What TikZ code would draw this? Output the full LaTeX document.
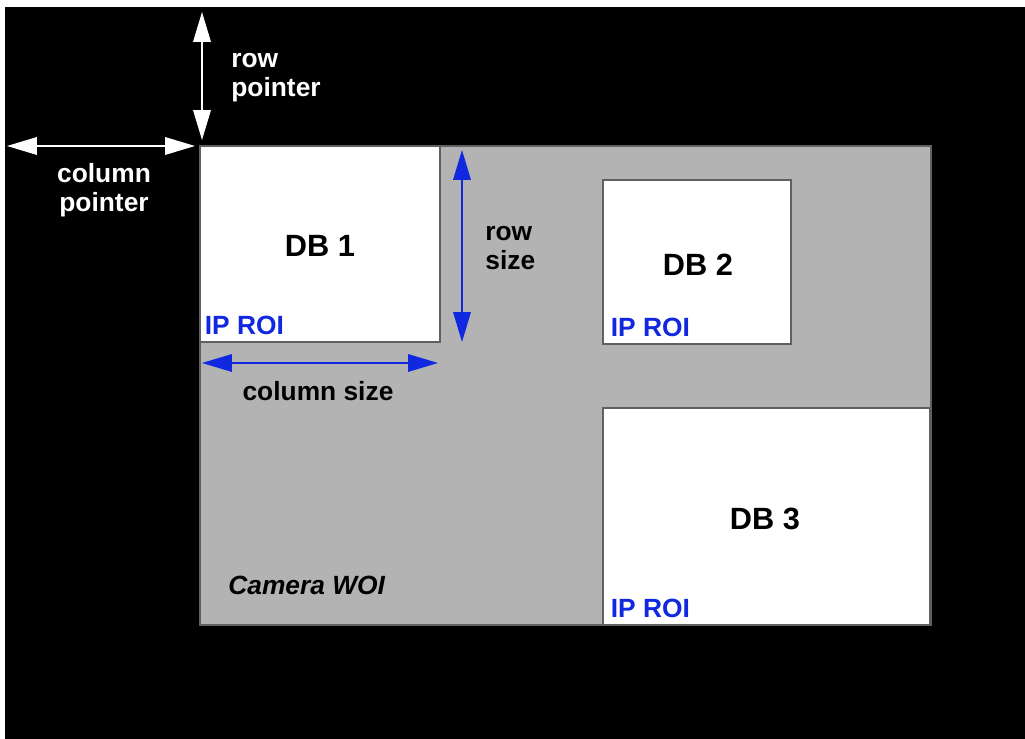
\documentclass[tikz,border=0pt]{standalone}
\usepackage{fontspec}
\setmainfont{Liberation Sans}
\usetikzlibrary{arrows.meta, positioning, fit, calc}
\definecolor{roiblue}{RGB}{16,40,224}
\definecolor{woigray}{RGB}{179,179,179}
\definecolor{edgegray}{RGB}{96,96,96}

\begin{document}
\begin{tikzpicture}[
	x=0.02cm, y=-0.02cm,
	>={Triangle[length=17pt,width=10pt]},
	dbbox/.style={draw=edgegray, line width=0.6pt, fill=white, inner sep=0pt},
	dbname/.style={inner sep=0pt, font=\fontsize{17.5}{20}\selectfont\bfseries},
	woi/.style={draw=edgegray, line width=0.6pt, fill=woigray, inner sep=0pt},
	roi/.style={text=roiblue, inner sep=0pt, anchor=base west,
		font=\fontsize{15}{18}\selectfont\bfseries},
	lbl/.style={inner sep=0pt, font=\fontsize{15}{16.5}\selectfont\bfseries},
	ptr/.style={<->, white, line width=0.8pt},
	dim/.style={<->, roiblue, line width=0.8pt}
	]
	% page and black frame
	\useasboundingbox (0,0) rectangle (1025,739);
	\fill[white] (0,0) rectangle (1025,739);
	\fill[black] (5,7) rectangle (1025,739);
	
	% Camera WOI
	\node[woi, fit={(200,146) (931,625)}] (WOI) {};
	\node[lbl, anchor=west, font=\fontsize{15}{18}\selectfont\bfseries\itshape] (woiname) at (228,585) {Camera WOI};
	
	% detector boxes
	\node[dbbox, fit={(200,146) (440,342)}] (DB1) {};
	\node[dbbox, fit={(603,180) (791,344)}] (DB2) {};
	\node[dbbox, fit={(603,408) (930,625)}] (DB3) {};
	\node[dbname] (db1name) at (320,246) {DB 1};
	\node[dbname] (db2name) at (698,265) {DB 2};
	\node[dbname] (db3name) at (765,519) {DB 3};
	
	\node[roi] (roi1) at ($(DB1.south west)+(5,-8)$) {IP ROI};
	\node[roi] (roi2) at ($(DB2.south west)+(8,-8)$) {IP ROI};
	\node[roi] (roi3) at ($(DB3.south west)+(8,-8)$) {IP ROI};
	
	% pointers
	\coordinate (rptop) at (202,12);
	\coordinate (rpbot) at (202,140);
	\coordinate (cpleft) at (7,146);
	\coordinate (cpright) at (195,146);
	\draw[ptr] (rptop) -- (rpbot);
	\draw[ptr] (cpleft) -- (cpright);
	\node[lbl, white, align=left, anchor=west] (rowptr) at (231,78) {row\\pointer};
	\node[lbl, white, align=center] (colptr) at (104,190) {column\\pointer};
	
	% sizes
	\coordinate (rstop) at (462,150);
	\coordinate (rsbot) at (462,342);
	\coordinate (csleft) at (202,363);
	\coordinate (csright) at (438,363);
	\draw[dim] (rstop) -- (rsbot);
	\draw[dim] (csleft) -- (csright);
	\node[lbl, align=left, anchor=west] (rowsize) at (485,248) {row\\size};
	\node[lbl] (colsize) at (318,391) {column size};
\end{tikzpicture}
\end{document}
